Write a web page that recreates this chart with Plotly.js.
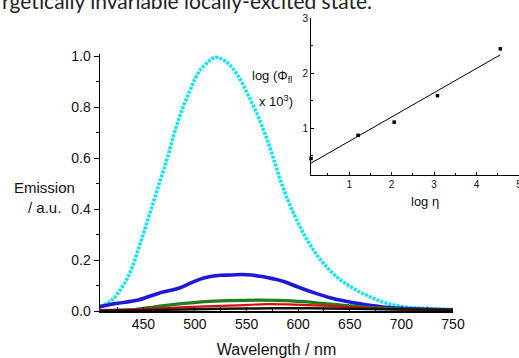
<!DOCTYPE html>
<html>
<head>
<meta charset="utf-8">
<script src="https://cdn.plot.ly/plotly-3.0.1.min.js"></script>
<style>html,body{margin:0;padding:0;background:#fff;}#chart{width:519px;height:358px;}</style>
</head>
<body>
<div id="chart"></div>
<script>
// ---- Main emission spectra (wavelength in nm, emission in a.u.) ----
const cyanX = [408,415,420,425,430,435,440,445,450,455,460,465,470,475,480,485,490,495,500,505,510,515,520,525,530,535,540,545,550,555,560,565,570,575,580,585,590,595,600,605,610,615,620,625,630,640,650,660,670,680,690,700,710,720,735,750];
const cyanY = [0.017,0.03,0.045,0.068,0.097,0.133,0.18,0.24,0.302,0.367,0.43,0.495,0.557,0.625,0.697,0.76,0.815,0.863,0.91,0.945,0.967,0.985,0.995,0.99,0.978,0.96,0.933,0.90,0.86,0.818,0.775,0.725,0.672,0.612,0.548,0.488,0.435,0.388,0.345,0.305,0.27,0.238,0.21,0.185,0.162,0.125,0.097,0.074,0.055,0.038,0.026,0.018,0.013,0.011,0.008,0.007];

const blueX = [408,425,445,465,485,495,505,515,525,535,545,555,565,575,585,600,615,630,645,660,680,700,725,750];
const blueY = [0.017,0.03,0.043,0.07,0.09,0.108,0.125,0.135,0.14,0.141,0.143,0.141,0.135,0.127,0.117,0.094,0.072,0.053,0.039,0.028,0.017,0.011,0.007,0.004];

const greenX = [408,420,440,455,470,490,510,535,560,580,605,620,640,670,700,725,750];
const greenY = [0.003,0.003,0.005,0.013,0.021,0.03,0.037,0.041,0.043,0.042,0.037,0.031,0.024,0.013,0.007,0.005,0.004];

const redX = [408,430,450,480,510,540,570,590,610,640,670,700,725,750];
const redY = [0.003,0.005,0.008,0.013,0.018,0.022,0.027,0.026,0.023,0.018,0.011,0.007,0.005,0.004];

const blackX = [408,430,460,500,550,590,630,670,710,750];
const blackY = [0.0,0.002,0.004,0.007,0.010,0.011,0.010,0.008,0.006,0.005];

// ---- Inset: log(Phi_fl x 10^3) vs log(eta) ----
const insetLogEta = [0.1,1.21,2.06,3.08,4.56];
const insetLogPhi = [0.45,0.87,1.11,1.59,2.44];

// Linear least-squares fit through the inset points
function linfit(xs, ys){
  const n = xs.length;
  const mx = xs.reduce((a,b)=>a+b,0)/n, my = ys.reduce((a,b)=>a+b,0)/n;
  let sxy=0,sxx=0;
  for(let i=0;i<n;i++){sxy+=(xs[i]-mx)*(ys[i]-my);sxx+=(xs[i]-mx)**2;}
  const b = sxy/sxx; return {a: my-b*mx, b: b};
}
const fit = linfit(insetLogEta, insetLogPhi);
const fitX = [Math.min(...insetLogEta), Math.max(...insetLogEta)];
const fitY = fitX.map(x => fit.a + fit.b*x);

const F = "Liberation Sans, Arial, sans-serif";

const traces = [
  {x: cyanX, y: cyanY, mode:'lines', line:{color:'#14e3ee', width:3.5, shape:'spline', dash:'3px,1.2px'}, xaxis:'x', yaxis:'y'},
  {x: blueX, y: blueY, mode:'lines', line:{color:'#1c1ad8', width:3.6, shape:'spline'}, xaxis:'x', yaxis:'y'},
  {x: greenX, y: greenY, mode:'lines', line:{color:'#1f7f1f', width:3.2, shape:'spline'}, xaxis:'x', yaxis:'y'},
  {x: redX, y: redY, mode:'lines', line:{color:'#d80f0f', width:2.2, shape:'spline'}, xaxis:'x', yaxis:'y'},
  {x: blackX, y: blackY, mode:'lines', line:{color:'#1a1010', width:2.5, shape:'spline'}, xaxis:'x', yaxis:'y'},
  {x: fitX, y: fitY, mode:'lines', line:{color:'#000', width:1}, xaxis:'x2', yaxis:'y2', cliponaxis:false},
  {x: insetLogEta, y: insetLogPhi, mode:'markers', marker:{symbol:'square', size:3.5, color:'#000'}, xaxis:'x2', yaxis:'y2', cliponaxis:false}
];

const layout = {
  width: 519, height: 358,
  margin: {l:100, r:0, t:0, b:47, pad:0},
  paper_bgcolor:'#fff', plot_bgcolor:'rgba(0,0,0,0)',
  showlegend: false,
  font: {family: F, color:'#111'},
  xaxis: {
    domain:[0, 353/419], range:[408,750], tick0:450, dtick:50,
    showgrid:false, zeroline:false, showline:true, linecolor:'#000', linewidth:1.5,
    ticks:'inside', ticklen:4, tickcolor:'#000', tickwidth:1,
    minor:{dtick:25, ticks:'inside', ticklen:4, tickcolor:'#000'},
    tickfont:{size:14, family:F, color:'#111'},
    title:{text:'Wavelength / nm', font:{size:16, family:F, color:'#111'}, standoff:14},
    automargin:false
  },
  yaxis: {
    domain:[0, 257/311], range:[0,1.008], dtick:0.2, tickformat:'.1f',
    showgrid:false, zeroline:false, showline:true, linecolor:'#000', linewidth:1.5,
    ticks:'outside', ticklen:5, tickcolor:'#000', tickwidth:1,
    minor:{dtick:0.1, ticks:'outside', ticklen:3, tickcolor:'#000'},
    tickfont:{size:14, family:F, color:'#111'},
    automargin:false
  },
  xaxis2: {
    domain:[211/419, 1], range:[0.1,5.0005], anchor:'y2', dtick:1,
    showgrid:false, zeroline:false, showline:true, linecolor:'#000', linewidth:1,
    ticks:'inside', ticklen:3, tickcolor:'#000',
    minor:{dtick:0.5, ticks:'inside', ticklen:2, tickcolor:'#000'},
    tickfont:{size:10, family:F, color:'#111'},
    ticklabeloverflow:'allow',
    automargin:false
  },
  yaxis2: {
    domain:[136/311, 293/311], range:[0.15,3.0], anchor:'x2', dtick:1,
    showgrid:false, zeroline:false, showline:true, linecolor:'#000', linewidth:1,
    ticks:'inside', ticklen:3, tickcolor:'#000',
    minor:{dtick:0.5, ticks:'inside', ticklen:2, tickcolor:'#000'},
    tickfont:{size:10, family:F, color:'#111'},
    automargin:false
  },
  annotations: [
    {text:'Emission', xref:'paper', yref:'paper', x:(44-100)/419, y:(311-187)/311, xanchor:'center', yanchor:'middle', showarrow:false, font:{size:15, family:F, color:'#111'}},
    {text:'/ a.u.', xref:'paper', yref:'paper', x:(44-100)/419, y:(311-207)/311, xanchor:'center', yanchor:'middle', showarrow:false, font:{size:15, family:F, color:'#111'}},
    {text:'log (Φ<sub>fl</sub>', xref:'paper', yref:'paper', x:(294-100)/419, y:(311-76)/311, xanchor:'right', yanchor:'middle', showarrow:false, font:{size:13, family:F, color:'#111'}},
    {text:'x 10<sup>3</sup>)', xref:'paper', yref:'paper', x:(295-100)/419, y:(311-101)/311, xanchor:'right', yanchor:'middle', showarrow:false, font:{size:13, family:F, color:'#111'}},
    {text:'log η', xref:'paper', yref:'paper', x:(425-100)/419, y:(311-201)/311, xanchor:'center', yanchor:'middle', showarrow:false, font:{size:13, family:F, color:'#111'}},
    {text:'rgetically invariable locally-excited state.', xref:'paper', yref:'paper', x:(0-100)/419, y:1, xanchor:'left', yanchor:'middle', yshift:0, showarrow:false, font:{size:21, family:'Lato, Open Sans, sans-serif', color:'#222'}}
  ]
};

Plotly.newPlot('chart', traces, layout, {staticPlot:true, displayModeBar:false});
</script>
</body>
</html>
